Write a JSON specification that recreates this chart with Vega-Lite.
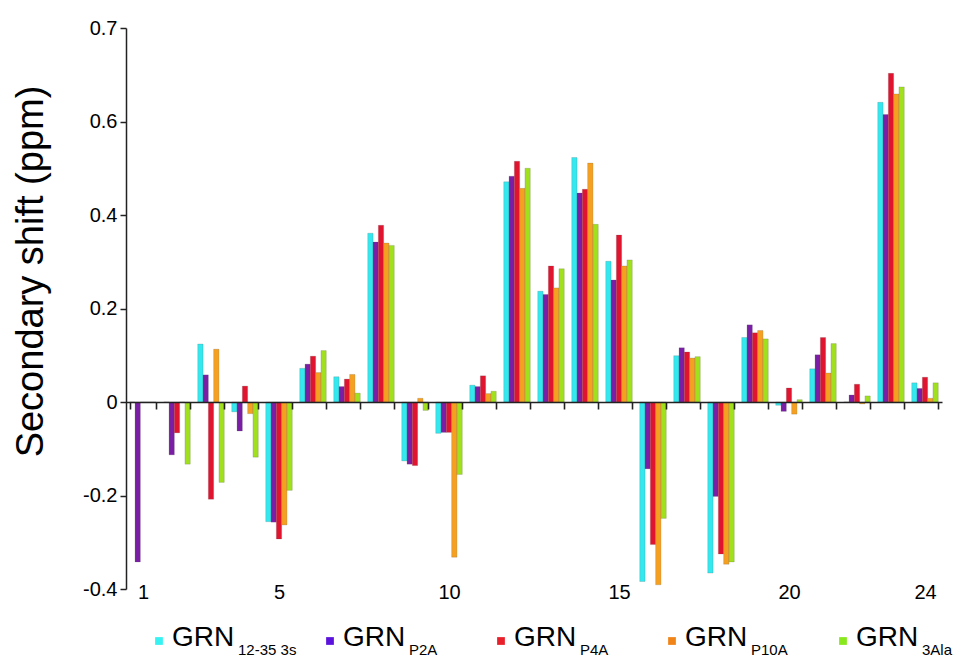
{
  "$schema": "https://vega.github.io/schema/vega-lite/v6.json",
  "background": "white",
  "padding": {"left": 12, "top": 18, "right": 5, "bottom": 0},
  "bounds": "flush",
  "spacing": 42,
  "config": {"view": {"stroke": null}, "font": "Liberation Sans"},
  "resolve": {"scale": {"color": "independent"}},
  "vconcat": [
    {
      "width": 816,
      "height": 561,
      "data": {"values": [
        {"residue":1,"series":"12-35 3s","value":0},{"residue":1,"series":"P2A","value":-0.342},{"residue":1,"series":"P4A","value":0},{"residue":1,"series":"P10A","value":0},{"residue":1,"series":"3Ala","value":0},
        {"residue":2,"series":"12-35 3s","value":0},{"residue":2,"series":"P2A","value":-0.113},{"residue":2,"series":"P4A","value":-0.066},{"residue":2,"series":"P10A","value":0},{"residue":2,"series":"3Ala","value":-0.133},
        {"residue":3,"series":"12-35 3s","value":0.124},{"residue":3,"series":"P2A","value":0.058},{"residue":3,"series":"P4A","value":-0.208},{"residue":3,"series":"P10A","value":0.113},{"residue":3,"series":"3Ala","value":-0.172},
        {"residue":4,"series":"12-35 3s","value":-0.021},{"residue":4,"series":"P2A","value":-0.062},{"residue":4,"series":"P4A","value":0.034},{"residue":4,"series":"P10A","value":-0.025},{"residue":4,"series":"3Ala","value":-0.118},
        {"residue":5,"series":"12-35 3s","value":-0.256},{"residue":5,"series":"P2A","value":-0.257},{"residue":5,"series":"P4A","value":-0.293},{"residue":5,"series":"P10A","value":-0.263},{"residue":5,"series":"3Ala","value":-0.189},
        {"residue":6,"series":"12-35 3s","value":0.072},{"residue":6,"series":"P2A","value":0.081},{"residue":6,"series":"P4A","value":0.098},{"residue":6,"series":"P10A","value":0.063},{"residue":6,"series":"3Ala","value":0.110},
        {"residue":7,"series":"12-35 3s","value":0.054},{"residue":7,"series":"P2A","value":0.033},{"residue":7,"series":"P4A","value":0.049},{"residue":7,"series":"P10A","value":0.059},{"residue":7,"series":"3Ala","value":0.019},
        {"residue":8,"series":"12-35 3s","value":0.361},{"residue":8,"series":"P2A","value":0.342},{"residue":8,"series":"P4A","value":0.378},{"residue":8,"series":"P10A","value":0.340},{"residue":8,"series":"3Ala","value":0.335},
        {"residue":9,"series":"12-35 3s","value":-0.126},{"residue":9,"series":"P2A","value":-0.133},{"residue":9,"series":"P4A","value":-0.136},{"residue":9,"series":"P10A","value":0.008},{"residue":9,"series":"3Ala","value":-0.018},
        {"residue":10,"series":"12-35 3s","value":-0.067},{"residue":10,"series":"P2A","value":-0.065},{"residue":10,"series":"P4A","value":-0.065},{"residue":10,"series":"P10A","value":-0.332},{"residue":10,"series":"3Ala","value":-0.155},
        {"residue":11,"series":"12-35 3s","value":0.036},{"residue":11,"series":"P2A","value":0.033},{"residue":11,"series":"P4A","value":0.056},{"residue":11,"series":"P10A","value":0.018},{"residue":11,"series":"3Ala","value":0.023},
        {"residue":12,"series":"12-35 3s","value":0.471},{"residue":12,"series":"P2A","value":0.483},{"residue":12,"series":"P4A","value":0.515},{"residue":12,"series":"P10A","value":0.457},{"residue":12,"series":"3Ala","value":0.500},
        {"residue":13,"series":"12-35 3s","value":0.237},{"residue":13,"series":"P2A","value":0.230},{"residue":13,"series":"P4A","value":0.291},{"residue":13,"series":"P10A","value":0.244},{"residue":13,"series":"3Ala","value":0.285},
        {"residue":14,"series":"12-35 3s","value":0.523},{"residue":14,"series":"P2A","value":0.447},{"residue":14,"series":"P4A","value":0.455},{"residue":14,"series":"P10A","value":0.511},{"residue":14,"series":"3Ala","value":0.380},
        {"residue":15,"series":"12-35 3s","value":0.301},{"residue":15,"series":"P2A","value":0.261},{"residue":15,"series":"P4A","value":0.357},{"residue":15,"series":"P10A","value":0.291},{"residue":15,"series":"3Ala","value":0.304},
        {"residue":16,"series":"12-35 3s","value":-0.384},{"residue":16,"series":"P2A","value":-0.143},{"residue":16,"series":"P4A","value":-0.305},{"residue":16,"series":"P10A","value":-0.391},{"residue":16,"series":"3Ala","value":-0.249},
        {"residue":17,"series":"12-35 3s","value":0.099},{"residue":17,"series":"P2A","value":0.116},{"residue":17,"series":"P4A","value":0.107},{"residue":17,"series":"P10A","value":0.094},{"residue":17,"series":"3Ala","value":0.097},
        {"residue":18,"series":"12-35 3s","value":-0.366},{"residue":18,"series":"P2A","value":-0.202},{"residue":18,"series":"P4A","value":-0.325},{"residue":18,"series":"P10A","value":-0.347},{"residue":18,"series":"3Ala","value":-0.342},
        {"residue":19,"series":"12-35 3s","value":0.138},{"residue":19,"series":"P2A","value":0.165},{"residue":19,"series":"P4A","value":0.148},{"residue":19,"series":"P10A","value":0.153},{"residue":19,"series":"3Ala","value":0.135},
        {"residue":20,"series":"12-35 3s","value":-0.007},{"residue":20,"series":"P2A","value":-0.020},{"residue":20,"series":"P4A","value":0.030},{"residue":20,"series":"P10A","value":-0.026},{"residue":20,"series":"3Ala","value":0.005},
        {"residue":21,"series":"12-35 3s","value":0.071},{"residue":21,"series":"P2A","value":0.101},{"residue":21,"series":"P4A","value":0.138},{"residue":21,"series":"P10A","value":0.062},{"residue":21,"series":"3Ala","value":0.125},
        {"residue":22,"series":"12-35 3s","value":0},{"residue":22,"series":"P2A","value":0.015},{"residue":22,"series":"P4A","value":0.038},{"residue":22,"series":"P10A","value":-0.004},{"residue":22,"series":"3Ala","value":0.013},
        {"residue":23,"series":"12-35 3s","value":0.641},{"residue":23,"series":"P2A","value":0.615},{"residue":23,"series":"P4A","value":0.703},{"residue":23,"series":"P10A","value":0.659},{"residue":23,"series":"3Ala","value":0.674},
        {"residue":24,"series":"12-35 3s","value":0.041},{"residue":24,"series":"P2A","value":0.029},{"residue":24,"series":"P4A","value":0.053},{"residue":24,"series":"P10A","value":0.008},{"residue":24,"series":"3Ala","value":0.041}
      ]},
      "mark": {"type": "bar", "stroke": "#555555", "strokeWidth": 0.4, "strokeOpacity": 0.5},
      "encoding": {
        "x": {
          "field": "residue", "type": "ordinal",
          "scale": {"paddingInner": 0.22, "paddingOuter": 0.11},
          "axis": {
            "title": null, "orient": "bottom", "offset": -187, "zindex": 1,
            "labelAngle": 0, "ticks": true, "tickBand": "extent", "tickSize": 7, "tickWidth": 1.6,
            "tickColor": "#222222", "domainColor": "#222222", "domainWidth": 1.5,
            "labelFontSize": 20, "labelColor": "black", "labelPadding": 173,
            "labelExpr": "(datum.value == 1 || datum.value == 5 || datum.value == 10 || datum.value == 15 || datum.value == 20 || datum.value == 24) ? datum.label : ''"
          }
        },
        "xOffset": {
          "field": "series", "type": "nominal",
          "sort": ["12-35 3s", "P2A", "P4A", "P10A", "3Ala"],
          "scale": {"paddingInner": 0, "paddingOuter": 0}
        },
        "y": {
          "field": "value", "type": "quantitative",
          "scale": {"domain": [-0.4, 0.8], "nice": false},
          "axis": {
            "title": "Secondary shift (ppm)",
            "values": [-0.4, -0.2, 0, 0.2, 0.4, 0.6, 0.8],
            "labelExpr": "datum.value > 0.75 ? '0.7' : '' + datum.value",
            "grid": false, "tickSize": 6, "tickWidth": 1.5, "tickColor": "#222222",
            "domainColor": "#222222", "domainWidth": 1.5,
            "labelFontSize": 20, "labelColor": "black", "labelPadding": 3,
            "titleFontSize": 38, "titleFontWeight": "normal", "titleColor": "black",
            "titlePadding": 32, "titleY": 243
          }
        },
        "color": {
          "field": "series", "type": "nominal",
          "scale": {
            "domain": ["12-35 3s", "P2A", "P4A", "P10A", "3Ala"],
            "range": ["#33e8ef", "#7a1ea6", "#e0142e", "#f6a020", "#a0e01c"]
          },
          "legend": null
        }
      }
    },
    {
      "width": 750,
      "height": 20,
      "data": {"values": [
        {"series": "12-35 3s", "main": "GRN", "sub": "12-35  3s"},
        {"series": "P2A", "main": "GRN", "sub": "P2A"},
        {"series": "P4A", "main": "GRN", "sub": "P4A"},
        {"series": "P10A", "main": "GRN", "sub": "P10A"},
        {"series": "3Ala", "main": "GRN", "sub": "3Ala"}
      ]},
      "encoding": {
        "x": {
          "field": "series", "type": "nominal",
          "sort": ["12-35 3s", "P2A", "P4A", "P10A", "3Ala"],
          "scale": {"type": "point", "padding": 0.193},
          "axis": null
        }
      },
      "layer": [
        {
          "mark": {"type": "point", "shape": "square", "filled": true, "size": 60, "opacity": 1},
          "encoding": {
            "color": {
              "field": "series", "type": "nominal",
              "scale": {
                "domain": ["12-35 3s", "P2A", "P4A", "P10A", "3Ala"],
                "range": ["#36f2f2", "#5a12dc", "#e8202a", "#f08418", "#88e81c"]
              },
              "legend": null
            }
          }
        },
        {
          "mark": {"type": "text", "align": "left", "baseline": "alphabetic", "dx": 13, "dy": 5, "fontSize": 28, "color": "black"},
          "encoding": {"text": {"field": "main"}}
        },
        {
          "mark": {"type": "text", "align": "left", "baseline": "alphabetic", "dx": 79, "dy": 14, "fontSize": 15, "color": "black"},
          "encoding": {"text": {"field": "sub"}}
        }
      ]
    }
  ]
}
